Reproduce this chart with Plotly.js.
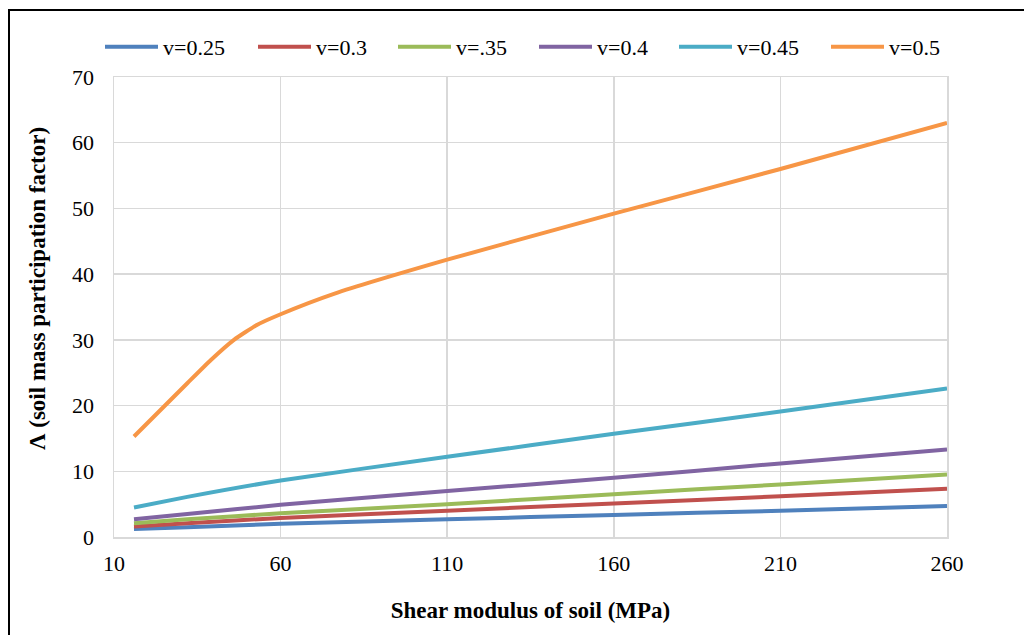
<!DOCTYPE html>
<html>
<head>
<meta charset="utf-8">
<script src="https://cdn.plot.ly/plotly-3.0.1.min.js"></script>
<style>
  html, body { margin: 0; padding: 0; background: #fff; overflow: hidden; }
  #chart { width: 1024px; height: 635px; }
  #frame { position: absolute; left: 8px; top: 9px; width: 1100px; height: 700px; border: 2px solid #000; pointer-events: none; }
</style>
</head>
<body>
<div id="chart"></div>
<div id="frame"></div>
<script>
const shearModulus = [16, 32, 60, 110, 160, 210, 260];
const v025 = [1.2, 1.5, 2.0, 2.7, 3.35, 4.0, 4.7];
const v030 = [1.6, 2.1, 2.9, 4.0, 5.1, 6.2, 7.35];
const v035 = [2.1, 2.7, 3.6, 5.0, 6.5, 8.0, 9.5];
const v040 = [2.7, 3.5, 4.9, 7.0, 9.0, 11.2, 13.3];
const v045 = [4.5, 6.1, 8.6, 12.2, 15.7, 19.1, 22.6];

const shearModulusV050 = [16, 32, 39, 46, 53, 60, 76, 110, 160, 210, 260];
const v050 = [15.3, 23.4, 26.9, 30.0, 32.3, 33.9, 37.0, 42.2, 49.2, 56.0, 63.0];

const seriesNames = ['v=0.25', 'v=0.3', 'v=.35', 'v=0.4', 'v=0.45', 'v=0.5'];
const seriesX = [shearModulus, shearModulus, shearModulus, shearModulus, shearModulus, shearModulusV050];
const seriesValues = [v025, v030, v035, v040, v045, v050];
const seriesColors = ['#4F81BD', '#C0504D', '#9BBB59', '#8064A2', '#4BACC6', '#F79646'];

const xTicks = [10, 60, 110, 160, 210, 260];
const yTicks = [0, 10, 20, 30, 40, 50, 60, 70];

const font = 'Liberation Serif, Times New Roman, serif';

// legend entry left positions (px in the 1024-wide page)
const legendLeft = [105, 258, 398, 539, 679, 831];
const legendKeys = ['legend', 'legend2', 'legend3', 'legend4', 'legend5', 'legend6'];

const traces = seriesNames.map((name, i) => ({
  type: 'scatter',
  mode: 'lines',
  name: name,
  legend: legendKeys[i],
  x: seriesX[i],
  y: seriesValues[i],
  line: { color: seriesColors[i], width: 4, shape: 'spline', smoothing: 0.5 }
}));

const layout = {
  width: 1024,
  height: 635,
  paper_bgcolor: '#fff',
  plot_bgcolor: '#fff',
  margin: { l: 114, r: 77, t: 77, b: 98 },
  font: { family: font, size: 22, color: '#000' },
  showlegend: true,
  xaxis: {
    range: [10, 260],
    tickvals: xTicks,
    ticktext: xTicks.map(String),
    showgrid: true, gridcolor: '#D9D9D9', gridwidth: 1.5,
    showline: true, linecolor: '#D9D9D9', linewidth: 1.5, mirror: true,
    zeroline: false,
    ticks: 'outside', ticklen: 6, tickcolor: 'rgba(0,0,0,0)',
    tickfont: { family: font, size: 22, color: '#000' },
    title: { text: '<b>Shear modulus of soil (MPa)</b>', font: { family: font, size: 23, color: '#000' }, standoff: 27 },
    automargin: false
  },
  yaxis: {
    range: [0, 70],
    tickvals: yTicks,
    ticktext: yTicks.map(String),
    showgrid: true, gridcolor: '#D9D9D9', gridwidth: 1.5,
    showline: true, linecolor: '#D9D9D9', linewidth: 1.5, mirror: true,
    zeroline: false,
    ticks: 'outside', ticklen: 14, tickcolor: 'rgba(0,0,0,0)',
    tickfont: { family: font, size: 22, color: '#000' },
    automargin: false
  },
  annotations: [{
    text: '<b>Λ (soil mass participation factor)</b>',
    textangle: -90,
    xref: 'paper', yref: 'paper',
    x: (37 - 114) / (1024 - 114 - 77),
    y: (537 - 289) / (537 - 77),
    xanchor: 'center', yanchor: 'middle',
    showarrow: false,
    font: { family: font, size: 23, color: '#000' }
  }]
};

legendKeys.forEach((k, i) => {
  layout[k] = {
    orientation: 'h',
    xref: 'container', yref: 'container',
    x: (legendLeft[i] - 5) / 1024, xanchor: 'left',
    y: 1 - 47 / 635, yanchor: 'middle',
    itemwidth: 53,
    font: { family: font, size: 22, color: '#000' },
    bgcolor: 'rgba(0,0,0,0)',
    borderwidth: 0
  };
});

Plotly.newPlot('chart', traces, layout, { displayModeBar: false, staticPlot: true });
</script>
</body>
</html>
